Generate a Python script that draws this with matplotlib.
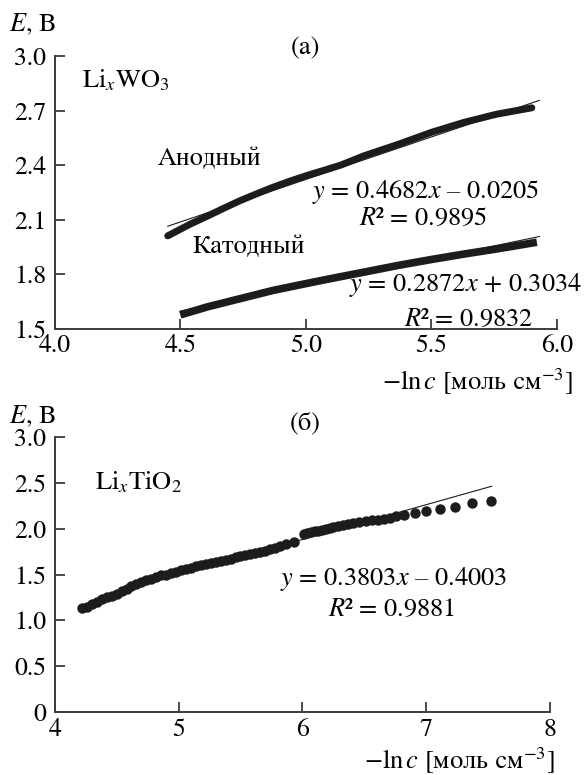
import matplotlib
matplotlib.use("Agg")
import matplotlib.pyplot as plt

plt.rcParams["font.family"] = ["STIXGeneral", "Liberation Serif", "DejaVu Serif"]
plt.rcParams["mathtext.fontset"] = "stix"
plt.rcParams["font.size"] = 19

# (а) LixWO3: anodic and cathodic branches
anode_x = [4.45, 4.54, 4.61, 4.67, 4.74, 4.81, 4.87, 4.94, 5.01, 5.07, 5.14,
           5.23, 5.37, 5.50, 5.63, 5.76, 5.90]
anode_y = [2.01, 2.075, 2.12, 2.16, 2.205, 2.245, 2.278, 2.313, 2.345, 2.37, 2.40,
           2.45, 2.515, 2.58, 2.635, 2.68, 2.715]
cathode_x = [4.50, 4.61, 4.74, 4.87, 5.01, 5.10, 5.23, 5.37, 5.50, 5.63, 5.76, 5.92]
cathode_y = [1.575, 1.62, 1.665, 1.71, 1.75, 1.775, 1.81, 1.848, 1.88, 1.91, 1.938, 1.975]
anode_fit = (0.4682, -0.0205)
cathode_fit = (0.2872, 0.3034)
anode_fit_range = [4.45, 5.93]
cathode_fit_range = [4.50, 5.93]

# (б) LixTiO2
tio2_x = [4.22, 4.26, 4.30, 4.34, 4.38, 4.42, 4.46, 4.50, 4.54, 4.58, 4.62,
          4.66, 4.70, 4.74, 4.78, 4.82, 4.86, 4.90, 4.94, 4.98, 5.02, 5.06,
          5.10, 5.14, 5.18, 5.22, 5.26, 5.30, 5.34, 5.38, 5.42, 5.46, 5.50,
          5.54, 5.58, 5.62, 5.66, 5.70, 5.74, 5.78, 5.82, 5.87, 5.93,
          6.01, 6.04, 6.07, 6.10, 6.13, 6.16, 6.19, 6.22, 6.25, 6.29, 6.33,
          6.37, 6.41, 6.46, 6.51, 6.56, 6.61, 6.66, 6.71, 6.76, 6.82, 6.91,
          7.00, 7.11, 7.23, 7.37, 7.52]
tio2_y = [1.13, 1.15, 1.18, 1.20, 1.23, 1.25, 1.27, 1.29, 1.32, 1.34, 1.37,
          1.40, 1.42, 1.44, 1.45, 1.47, 1.49, 1.50, 1.52, 1.53, 1.55, 1.56,
          1.57, 1.59, 1.60, 1.61, 1.63, 1.64, 1.65, 1.66, 1.67, 1.69, 1.70,
          1.71, 1.72, 1.74, 1.75, 1.76, 1.78, 1.79, 1.81, 1.83, 1.86,
          1.94, 1.95, 1.96, 1.97, 1.98, 1.99, 2.00, 2.01, 2.02, 2.03, 2.04,
          2.05, 2.06, 2.07, 2.08, 2.09, 2.10, 2.11, 2.12, 2.14, 2.15, 2.17,
          2.19, 2.21, 2.24, 2.28, 2.30]
tio2_fit = (0.3803, -0.4003)
tio2_fit_range = [4.35, 7.53]

top_xticks = [4.0, 4.5, 5.0, 5.5, 6.0]
top_yticks = [1.5, 1.8, 2.1, 2.4, 2.7, 3.0]
bot_xticks = [4, 5, 6, 7, 8]
bot_yticks = [0, 0.5, 1.0, 1.5, 2.0, 2.5, 3.0]
bot_yticklabels = ["0", "0.5", "1.0", "1.5", "2.0", "2.5", "3.0"]

INK = "#1c1c1c"
AXC = "#3c3c3c"
XLABEL = r"$-\mathrm{ln}\,c$ [моль см$^{-3}$]"


def style_axes(ax):
    for side in ("top", "right"):
        ax.spines[side].set_visible(False)
    for side in ("left", "bottom"):
        ax.spines[side].set_color(AXC)
        ax.spines[side].set_linewidth(1.4)
    ax.tick_params(direction="in", length=7, width=1.3, color=AXC, labelsize=18.5)
    ax.tick_params(axis="y", pad=6)
    ax.tick_params(axis="x", pad=4)


def fit_line(ax, coef, xr):
    k, b = coef
    ax.plot(xr, [k * xr[0] + b, k * xr[1] + b], color=INK, lw=0.8, zorder=3)


fig = plt.figure(figsize=(5.84, 7.75), dpi=100)
ax1 = fig.add_axes([0.0937, 0.5761, 0.860, 0.3516])
ax2 = fig.add_axes([0.0937, 0.0813, 0.8481, 0.3548])

# --- panel (а)
ax1.plot(anode_x, anode_y, color=INK, lw=5, solid_capstyle="round",
         solid_joinstyle="round", zorder=2)
ax1.plot(cathode_x, cathode_y, color=INK, lw=5.5, solid_capstyle="butt",
         solid_joinstyle="round", zorder=2)
fit_line(ax1, anode_fit, anode_fit_range)
fit_line(ax1, cathode_fit, cathode_fit_range)
ax1.set_xlim(4.0, 6.0)
ax1.set_ylim(1.5, 3.0)
ax1.set_xticks(top_xticks, [f"{v:.1f}" for v in top_xticks])
ax1.set_yticks(top_yticks, [f"{v:.1f}" for v in top_yticks])
style_axes(ax1)

ax1.text(3.818, 3.173, r"$E$, В", ha="left", va="center", clip_on=False)
ax1.text(5.0, 3.041, "(а)", ha="center", va="center", clip_on=False)
ax1.text(4.109, 2.865, r"Li$_x$WO$_3$", ha="left", va="center")
ax1.text(4.412, 2.431, "Анодный", ha="left", va="center")
ax1.text(4.548, 1.948, "Катодный", ha="left", va="center")
ax1.text(5.477, 2.25, r"$y$ = 0.4682$x$ – 0.0205", ha="center", va="center")
ax1.text(5.469, 2.102, r"$R$² = 0.9895", ha="center", va="center")
ax1.text(5.635, 1.739, r"$y$ = 0.2872$x$ + 0.3034", ha="center", va="center", clip_on=False)
ax1.text(5.649, 1.547, r"$R$² = 0.9832", ha="center", va="center")
ax1.text(6.064, 1.206, XLABEL, ha="right", va="center", clip_on=False)

# --- panel (б)
ax2.plot(tio2_x, tio2_y, "o", color=INK, ms=7.5, mec="none", zorder=2)
fit_line(ax2, tio2_fit, tio2_fit_range)
ax2.set_xlim(4, 8)
ax2.set_ylim(0, 3.0)
ax2.set_xticks(bot_xticks, [str(v) for v in bot_xticks])
ax2.set_yticks(bot_yticks, bot_yticklabels)
style_axes(ax2)

ax2.text(3.631, 3.217, r"$E$, В", ha="left", va="center", clip_on=False)
ax2.text(6.022, 3.152, "(б)", ha="center", va="center", clip_on=False)
ax2.text(4.326, 2.508, r"Li$_x$TiO$_2$", ha="left", va="center")
ax2.text(6.733, 1.450, r"$y$ = 0.3803$x$ – 0.4003", ha="center", va="center")
ax2.text(6.725, 1.112, r"$R$² = 0.9881", ha="center", va="center")
ax2.text(8.041, -0.534, XLABEL, ha="right", va="center", clip_on=False)

fig.savefig("out.png", dpi=100, facecolor="white")
plt.close(fig)
